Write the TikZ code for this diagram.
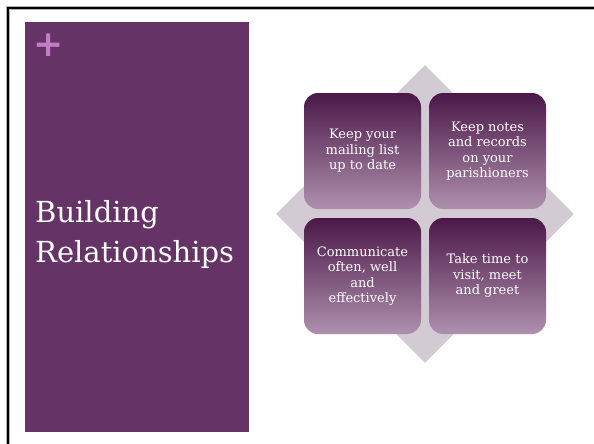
\documentclass[tikz,border=0pt]{standalone}
\usepackage{fontspec}
\setmainfont{DejaVu Serif}
\newfontfamily\plusfont{DejaVu Sans}
\usetikzlibrary{shapes.geometric}
\definecolor{panelpurple}{HTML}{663366}
\definecolor{pluspink}{HTML}{C27DC6}
\definecolor{diamondgray}{HTML}{D3CBD3}
\definecolor{tiletop}{HTML}{4B1848}
\definecolor{tilemid}{HTML}{8A6A88}
\definecolor{tilebottom}{HTML}{AE90AE}
\tikzset{
    tile/.style={rectangle, rounded corners=14pt, minimum width=117pt, minimum height=116pt,
        top color=tiletop, middle color=tilemid, bottom color=tilebottom,
        text=white, align=center, inner sep=0pt, font=\fontsize{13}{15.5}\selectfont},
    backdrop/.style={diamond, aspect=1, fill=diamondgray, minimum width=298pt, minimum height=298pt, inner sep=0pt},
    heading/.style={text=white, align=left, inner sep=0pt, font=\fontsize{29}{40}\selectfont}
}

\begin{document}
\begin{tikzpicture}[x=1pt, y=-1pt]
    \useasboundingbox (0,0) rectangle (594,444);

    % Slide frame (right and bottom edges fall off the page)
    \draw[line width=3.5pt, gray!60] (8,460) -- (8,8) -- (610,8);
    \draw[line width=2.5pt, black] (8,460) -- (8,8) -- (610,8);

    % Title panel on the left
    \fill[panelpurple] (25,22) rectangle (249,432);
    \node[text=pluspink, inner sep=0pt, font=\plusfont\bfseries\fontsize{36}{36}\selectfont] (plus) at (48.5,45.5) {+};
    \node[heading, anchor=north west] (title) at (35,200) {Building\\Relationships};

    % Diamond behind the four tiles
    \node[backdrop] (backdrop) at (425,214) {};

    % Four tiles
    \node[tile] (mailing) at (362.5,151) {Keep your\\mailing list\\up to date};
    \node[tile] (notes) at (487.5,151) {Keep notes\\and records\\on your\\parishioners};
    \node[tile] (communicate) at (362.5,276) {Communicate\\often, well\\and\\effectively};
    \node[tile] (visit) at (487.5,276) {Take time to\\visit, meet\\and greet};
\end{tikzpicture}
\end{document}
